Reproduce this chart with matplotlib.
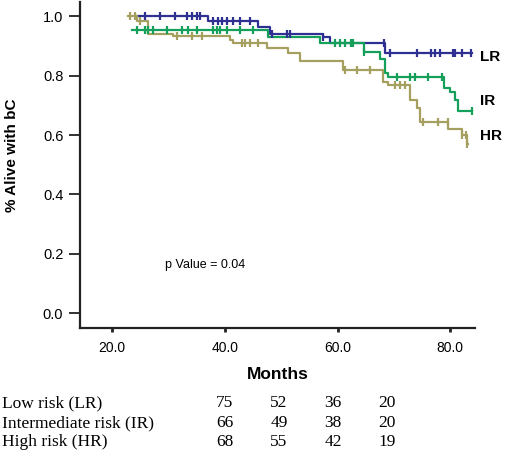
import numpy as np
import matplotlib
matplotlib.use("Agg")
import matplotlib.pyplot as plt

# --- Kaplan-Meier step data (time in months, survival fraction) ---
lr_t = [24.1, 37.0, 45.9, 48.0, 57.5, 58.7, 68.5, 83.9]
lr_s = [1.0, 0.985, 0.965, 0.94, 0.93, 0.912, 0.878, 0.878]
lr_cens = [25.9, 28.5, 31.2, 33.3, 34.2, 35.1, 35.6, 37.9, 38.8, 39.5, 40.4,
           41.5, 42.7, 44.5, 48.4, 51.1, 51.6, 57.5, 68.3, 69.3, 74.1, 76.5,
           77.3, 78.2, 80.4, 80.9, 82.1, 83.6]

ir_t = [23.6, 47.7, 56.9, 64.6, 67.6, 68.5, 69.0, 78.8, 80.0, 80.9, 81.4, 83.9]
ir_s = [0.955, 0.93, 0.91, 0.88, 0.855, 0.81, 0.795, 0.76, 0.745, 0.72, 0.68, 0.68]
ir_cens = [24.4, 25.9, 26.4, 27.3, 29.8, 32.4, 33.5, 35.1, 37.9, 38.6, 39.2,
           40.4, 42.7, 45.0, 59.6, 60.5, 61.4, 62.3, 62.8, 64.6, 70.6, 72.9,
           73.8, 76.1, 78.6, 83.8]

hr_t = [22.9, 24.4, 26.4, 30.8, 40.9, 41.5, 47.5, 51.2, 53.4, 61.0, 68.1, 69.0,
        72.9, 74.1, 74.7, 79.6, 82.1, 83.0, 83.2]
hr_s = [1.0, 0.985, 0.94, 0.935, 0.92, 0.91, 0.895, 0.878, 0.85, 0.82, 0.78,
        0.77, 0.72, 0.69, 0.645, 0.62, 0.60, 0.57, 0.57]
hr_cens = [23.2, 24.1, 25.0, 31.5, 34.2, 36.0, 43.1, 43.6, 44.5, 45.9, 61.4,
           63.5, 65.8, 70.2, 71.1, 72.0, 75.2, 77.9, 79.5, 82.1, 82.7, 83.0]

groups = ["LR", "IR", "HR"]
colors = {"LR": "#2E3192", "IR": "#14A05A", "HR": "#A5A060"}
label_y = {"LR": 0.865, "IR": 0.716, "HR": 0.596}

# --- Numbers at risk table ---
risk_rows = ["Low risk (LR)", "Intermediate risk (IR)", "High risk (HR)"]
risk_counts = [[75, 52, 36, 20], [66, 49, 38, 20], [68, 55, 42, 19]]

data = {"LR": (lr_t, lr_s, lr_cens),
        "IR": (ir_t, ir_s, ir_cens),
        "HR": (hr_t, hr_s, hr_cens)}

fig = plt.figure(figsize=(5.06, 4.61), dpi=100)
ax = fig.add_axes([0.158, 0.2885, 0.781, 0.708])

sans = "Liberation Sans"
for g in groups:
    t, s, c = data[g]
    t = np.array(t)
    s = np.array(s)
    ax.step(t, s, where="post", color=colors[g], lw=1.6, zorder=3)
    idx = np.searchsorted(t, c, side="right") - 1
    ax.plot(c, s[idx], linestyle="none", marker="|", ms=6, mew=1.6,
            color=colors[g], zorder=4)
    ax.text(85.3, label_y[g], g, fontsize=11, fontweight="bold",
            family=sans, va="center", ha="left", clip_on=False)

ax.text(36.5, 0.162, "p Value = 0.04", fontsize=9, family=sans,
        ha="center", va="center")

ax.set_xlim(14.3, 84.4)
ax.set_ylim(-0.05, 1.05)
ax.set_xticks([20, 40, 60, 80])
ax.set_xticklabels(["20.0", "40.0", "60.0", "80.0"], family=sans, fontsize=10)
ax.set_yticks([0, 0.2, 0.4, 0.6, 0.8, 1.0])
ax.set_yticklabels(["0.0", "0.2", "0.4", "0.6", "0.8", "1.0"], family=sans,
                   fontsize=10.5)
ax.tick_params(axis="y", length=8, width=1.3, color="#222222", pad=4)
ax.tick_params(axis="x", length=3, width=2, color="#222222", pad=6)
for side in ["top", "right"]:
    ax.spines[side].set_visible(False)
for side in ["left", "bottom"]:
    ax.spines[side].set_linewidth(1.6)
    ax.spines[side].set_color("#222222")

ax.set_xlabel("Months", family=sans, fontsize=12.5, fontweight="bold",
              labelpad=9)
ax.set_ylabel("% Alive with bC", family=sans, fontsize=11, fontweight="bold")
ax.yaxis.set_label_coords(-0.154, 0.53)

# numbers-at-risk table
row_y = [403, 423, 442]
col_x = [225, 279, 333, 387]
W, H = 506, 461
for r, label in enumerate(risk_rows):
    fig.text(2 / W, 1 - row_y[r] / H, label, family="Liberation Serif",
             fontsize=12.5, va="center", ha="left")
    for k, n in enumerate(risk_counts[r]):
        fig.text(col_x[k] / W, 1 - row_y[r] / H, str(n),
                 family="Liberation Serif", fontsize=12.5, va="center",
                 ha="center")

fig.savefig("out.png", dpi=100)
